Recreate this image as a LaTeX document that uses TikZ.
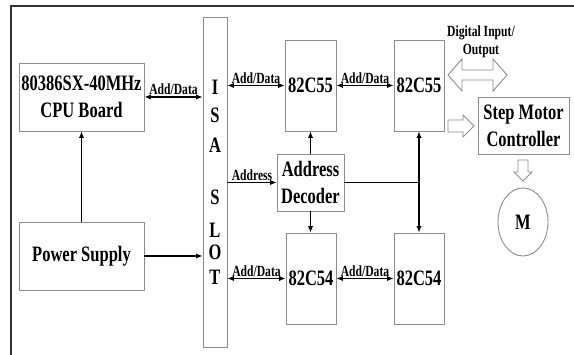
\documentclass[tikz,border=0pt]{standalone}
\usepackage{fontspec}
\setmainfont{Liberation Serif}[FakeStretch=0.75]
\usetikzlibrary{arrows.meta,shapes.geometric}
\definecolor{boxgray}{gray}{0.55}
\definecolor{framegray}{gray}{0.2}
\newcommand\dgbig{\fontsize{22}{27}\selectfont\bfseries}
\newcommand\dgsmall{\fontsize{15.5}{18}\selectfont\bfseries}
\begin{document}
\begin{tikzpicture}[x=1pt,y=-1pt,
  box/.style={draw=boxgray, line width=0.9pt, inner sep=0pt, align=center, font=\dgbig},
  conn/.style={line width=1.3pt, -{Latex[length=6.5pt,width=5.5pt]}},
  biconn/.style={line width=1.3pt, {Latex[length=6.5pt,width=5.5pt]}-{Latex[length=6.5pt,width=5.5pt]}},
  plain/.style={line width=1.3pt},
  lbl/.style={font=\dgsmall, inner sep=1.5pt},
  letter/.style={font=\dgbig, inner sep=0pt},
  hollow/.style={draw=boxgray, line width=0.9pt, fill=white}]
\useasboundingbox (0,0) rectangle (574,355);
% frame
\draw[framegray, line width=1.8pt] (11,355) -- (11,6) -- (574,6);
% boxes
\node[box, minimum width=125, minimum height=68] (cpu) at (81.5,97) {80386SX-40MHz\\CPU Board};
\node[box, minimum width=125, minimum height=68] (psu) at (81.5,256) {Power Supply};
\node[box, minimum width=24, minimum height=330] (isa) at (215,182) {};
\node[box, minimum width=51, minimum height=91] (p1) at (310.5,85.5) {82C55};
\node[box, minimum width=50, minimum height=91] (p2) at (419,85.5) {82C55};
\node[box, minimum width=67, minimum height=57] (dec) at (310.5,182.5) {Address\\Decoder};
\node[box, minimum width=50, minimum height=91] (t1) at (311,278.5) {82C54};
\node[box, minimum width=50, minimum height=91] (t2) at (419,278.5) {82C54};
\node[box, minimum width=91, minimum height=57] (smc) at (523.5,125.5) {Step Motor\\Controller};
\node[box, ellipse, minimum width=50, minimum height=68] (m) at (523,222) {M};
% ISA letters
\node[letter] (li) at (215,87) {I};
\node[letter] (ls) at (215,115) {S};
\node[letter] (la) at (215,145) {A};
\node[letter] (ls2) at (215,197) {S};
\node[letter] (ll) at (215,230) {L};
\node[letter] (lo) at (215,252) {O};
\node[letter] (lt) at (215,277) {T};
% connectors
\draw[biconn] (cpu.east) -- (cpu.east -| isa.west) node[lbl, midway, above] {Add/Data};
\draw[conn] (psu.north) -- (cpu.south);
\draw[conn] (psu.east) -- (psu.east -| isa.west);
\draw[biconn] (isa.east |- p1.west) -- (p1.west) node[lbl, midway, above] {Add/Data};
\draw[biconn] (p1.east) -- (p2.west) node[lbl, midway, above] {Add/Data};
\draw[conn] (isa.east |- dec.west) -- (dec.west) node[lbl, midway, above] {Address};
\draw[biconn] (isa.east |- t1.west) -- (t1.west) node[lbl, midway, above] {Add/Data};
\draw[biconn] (t1.east) -- (t2.west) node[lbl, midway, above] {Add/Data};
\draw[conn] (dec.north) -- (dec.north |- p1.south);
\draw[conn] (dec.south) -- (dec.south |- t1.north);
\coordinate (j) at (dec.east -| p2.south);
\draw[plain] (dec.east) -- (j);
\draw[conn] (j) -- (p2.south);
\draw[conn] (j) -- (t2.north);
% digital I/O label
\node[lbl, align=center] (dio) at (481,42) {Digital Input/\\Output};
% hollow arrows
\draw[hollow] (448,75) -- (462,59) -- (462,70) -- (493,70) -- (493,59) -- (507,75) -- (493,91) -- (493,80) -- (462,80) -- (462,91) -- cycle;
\draw[hollow] (448,120) -- (463,120) -- (463,115) -- (474,126) -- (463,137) -- (463,132) -- (448,132) -- cycle;
\draw[hollow] (518,160) -- (528,160) -- (528,172) -- (532,172) -- (523,181) -- (514,172) -- (518,172) -- cycle;
\end{tikzpicture}
\end{document}
